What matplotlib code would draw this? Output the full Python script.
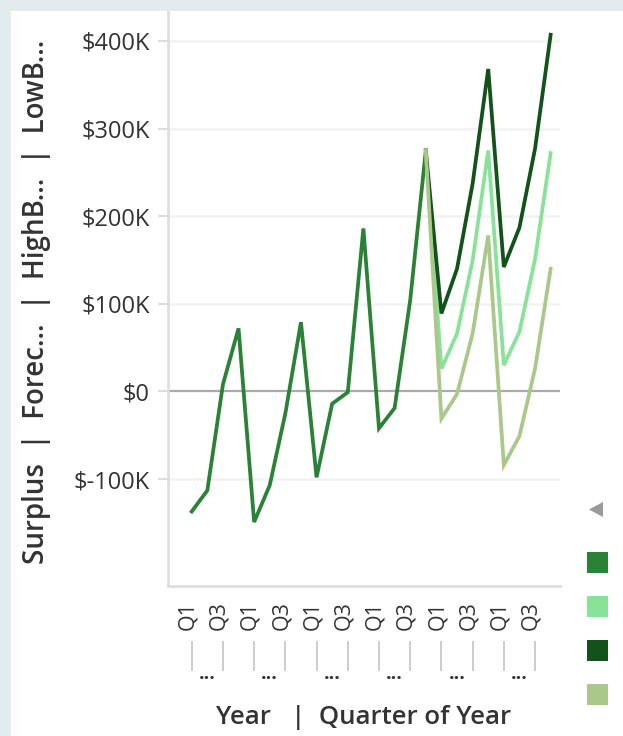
import numpy as np
import matplotlib.pyplot as plt
import matplotlib.transforms as mtransforms
from matplotlib.patches import Rectangle, Polygon

plt.rcParams['font.family'] = ['Open Sans', 'DejaVu Sans']

# quarters shown on the axis (6 years x 4 quarters), only Q1 / Q3 labels fit
quarters = ['Q1', 'Q2', 'Q3', 'Q4'] * 6
year_labels = ['...'] * 6

# values in $K
surplus = [-137, -113, 8, 72, -149, -107, -25, 79, -98, -14, -1, 186, -42, -19, 104, 275]
forecast = [275, 26, 66, 149, 275, 30, 68, 151, 272]
high_bound = [275, 89, 140, 237, 368, 142, 187, 277, 407]
low_bound = [275, -31, -3, 66, 178, -84, -51, 26, 140]

series_names = ['Surplus', 'Forec...', 'HighB...', 'LowB...']
colors = ['#2a8236', '#88e399', '#13521b', '#abc88b']

W, H = 623, 736
fig = plt.figure(figsize=(W / 100, H / 100), dpi=100, facecolor='#e2ebed')
fig.patches.append(Rectangle((11 / W, 0), 1, (H - 11) / H, transform=fig.transFigure,
                             facecolor='white', edgecolor='none', zorder=-5))

ax = fig.add_axes([168 / W, (H - 586) / H, 392 / W, 574 / H])
ax.set_facecolor('white')
ax.set_zorder(2)

x_surplus = np.arange(len(surplus))
x_fc = np.arange(len(surplus) - 1, len(surplus) - 1 + len(forecast))

ax.axhline(0, color='#aaaaaa', lw=1.6, zorder=1)
for v in [-100, 100, 200, 300, 400]:
    ax.axhline(v, color='#f2f2f2', lw=1.8, zorder=0)

lw = 2.7
ax.plot(x_surplus, surplus, color=colors[0], lw=lw, zorder=3, solid_joinstyle='miter')
ax.plot(x_fc, forecast, color=colors[1], lw=lw, zorder=3, solid_joinstyle='miter')
ax.plot(x_fc, high_bound, color=colors[2], lw=lw, zorder=3, solid_joinstyle='miter')
ax.plot(x_fc, low_bound, color=colors[3], lw=lw, zorder=4, solid_joinstyle='miter')

ax.set_xlim(-1.52, 23.6)
ax.set_ylim(-222, 433)

yt = [-100, 0, 100, 200, 300, 400]
ax.set_yticks(yt)
ax.set_yticklabels(['$%dK' % v if v != 0 else '$0' for v in yt])
ax.tick_params(axis='y', length=7, width=1.5, color='#dddddd', labelsize=17,
               labelcolor='#333333', pad=6)

xt = [i for i, q in enumerate(quarters) if q in ('Q1', 'Q3')]
ax.set_xticks(xt)
ax.set_xticklabels([quarters[i] for i in xt], rotation=90, va='top', ha='center')
ax.tick_params(axis='x', length=0, labelsize=15.5, labelcolor='#333333', pad=11)
shift = mtransforms.ScaledTranslation(-4 / 100, 0, fig.dpi_scale_trans)
for lab in ax.get_xticklabels():
    lab.set_transform(lab.get_transform() + shift)

for s in ['top', 'right']:
    ax.spines[s].set_visible(False)
for s in ['left', 'bottom']:
    ax.spines[s].set_color('#dddddd')
    ax.spines[s].set_linewidth(1.9)

# year header row
trans = ax.get_xaxis_transform()
y_top = (586 - 642) / 574
y_bot = (586 - 670) / 574
for k, lab in enumerate(year_labels):
    ax.plot([4 * k, 4 * k], [y_top, y_bot], color='#cccccc', lw=1.4,
            transform=trans, clip_on=False)
    ax.plot([4 * k + 2, 4 * k + 2], [y_top, y_bot], color='#cccccc', lw=1.4,
            transform=trans, clip_on=False)
    ax.text(4 * k + 1, (586 - 674) / 574, lab, transform=trans, ha='center',
            va='center', fontsize=14, fontweight='bold', color='#333333')

fig.text(364 / W, (H - 717) / H, 'Year   |  Quarter of Year', ha='center', va='center',
         fontsize=18.5, fontweight='semibold', color='#333333')
fig.text(37 / W, (H - 302) / H, '  |  '.join(series_names), rotation=90,
         ha='center', va='center', fontsize=20, fontweight='semibold', color='#333333')

# legend column (labels cut off)
tri = [(603, 502), (603, 517), (589, 509.5)]
fig.patches.append(Polygon([(a / W, 1 - b / H) for a, b in tri], closed=True,
                           transform=fig.transFigure, facecolor='#9a9a9a',
                           edgecolor='none'))
for c, yc in zip(colors, [562, 606, 650, 694]):
    fig.patches.append(Rectangle((587 / W, 1 - (yc + 10.5) / H), 21 / W, 21 / H,
                                 transform=fig.transFigure, facecolor=c,
                                 edgecolor='none'))

fig.savefig('out.png', dpi=100, facecolor=fig.get_facecolor())
